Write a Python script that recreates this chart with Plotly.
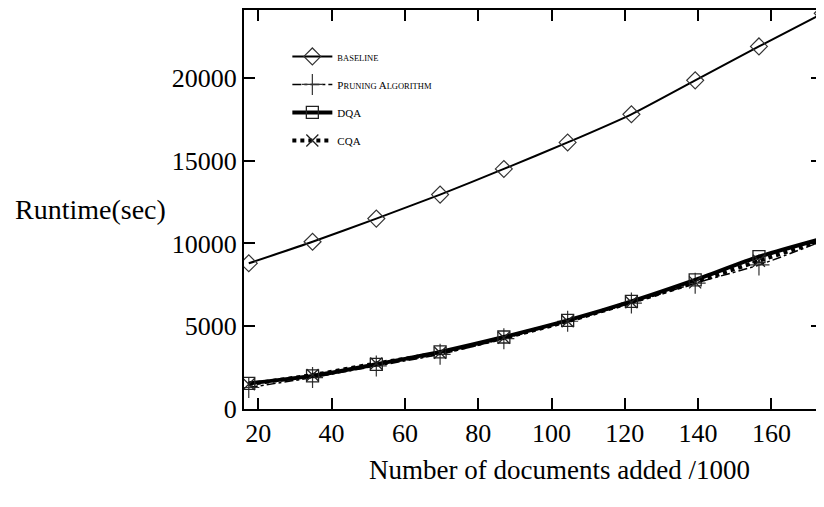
import plotly.graph_objects as go

docs = [17.4, 34.8, 52.2, 69.6, 87.0, 104.4, 121.8, 139.2, 156.6, 174.0]
baseline = [8800, 10100, 11500, 12950, 14500, 16100, 17800, 19850, 21900, 23900]
pruning = [1300, 1900, 2600, 3300, 4250, 5300, 6400, 7600, 8700, 10150]
dqa = [1550, 2000, 2700, 3450, 4350, 5350, 6500, 7800, 9200, 10300]
cqa = [1500, 2050, 2750, 3400, 4300, 5300, 6450, 7650, 8950, 10200]

x_ticks = [20, 40, 60, 80, 100, 120, 140, 160]
y_ticks = [0, 5000, 10000, 15000, 20000]

SERIF = "Liberation Serif, Times New Roman, serif"
sc = "font-size:8.5px"

fig = go.Figure()
fig.add_trace(go.Scatter(
    x=docs, y=baseline, name=f"<span style='{sc}'>BASELINE</span>",
    mode="lines+markers", legendgroup="a",
    line=dict(color="black", width=2, shape="spline", smoothing=0.6),
    marker=dict(symbol="diamond-open", size=13, color="#333", line=dict(width=1.2)),
))
fig.add_trace(go.Scatter(
    x=docs, y=pruning,
    name=f"P<span style='{sc}'>RUNING</span> A<span style='{sc}'>LGORITHM</span>",
    mode="lines+markers", legendgroup="b",
    line=dict(color="black", width=1.5, dash="dashdot", shape="spline", smoothing=0.6),
    marker=dict(symbol="cross-thin-open", size=15, color="#333", line=dict(width=1.2, color="#333")),
))
fig.add_trace(go.Scatter(
    x=docs, y=dqa, name="DQA",
    mode="lines+markers", legendgroup="c",
    line=dict(color="black", width=4, shape="spline", smoothing=0.6),
    marker=dict(symbol="square-open", size=12, color="#222", line=dict(width=1.3)),
))
fig.add_trace(go.Scatter(
    x=docs, y=cqa, name="CQA",
    mode="lines+markers", legendgroup="d",
    line=dict(color="black", width=4, dash="dot", shape="spline", smoothing=0.6),
    marker=dict(symbol="x-thin-open", size=12, color="#222", line=dict(width=1.3, color="#222")),
))

axis_common = dict(
    showline=True, linecolor="black", linewidth=2, mirror="ticks",
    ticks="inside", ticklen=11, tickwidth=2, tickcolor="black",
    showgrid=False, zeroline=False,
    tickfont=dict(family=SERIF, size=26, color="black"),
)

fig.update_layout(
    width=816, height=499,
    margin=dict(l=236, r=0, t=0, b=98),
    paper_bgcolor="white", plot_bgcolor="white",
    xaxis=dict(range=[16.1, 173.8], tickvals=x_ticks, ticktext=[str(v) for v in x_ticks], **axis_common),
    yaxis=dict(range=[0, 24100], tickvals=y_ticks, ticktext=[str(v) for v in y_ticks], **axis_common),
    showlegend=True,
    legend=dict(
        x=0.075, y=0.92, xanchor="left", yanchor="top",
        bgcolor="rgba(0,0,0,0)", borderwidth=0,
        font=dict(family=SERIF, size=11, color="black"),
        tracegroupgap=9, itemwidth=40,
    ),
    annotations=[
        dict(text="Runtime(sec)", xref="paper", yref="paper", x=-0.40, y=0.5,
             xanchor="left", yanchor="middle", showarrow=False,
             font=dict(family=SERIF, size=28, color="black")),
        dict(text="Number of documents added /1000", xref="paper", yref="paper",
             x=0.545, y=-0.152, xanchor="center", yanchor="middle", showarrow=False,
             font=dict(family=SERIF, size=27, color="black")),
    ],
)

fig.write_html("out.html")
